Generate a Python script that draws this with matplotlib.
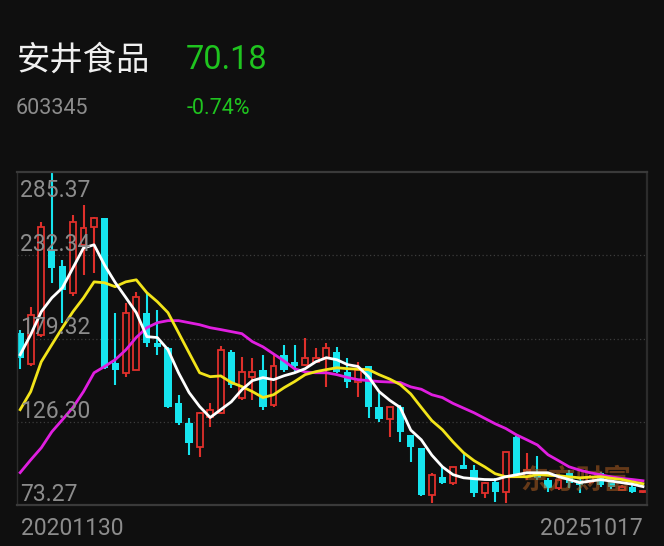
import matplotlib
matplotlib.use("Agg")
import matplotlib.pyplot as plt

plt.rcParams['font.family'] = ['Roboto', 'Noto Sans CJK SC', 'DejaVu Sans']

# header
stock_name = "安井食品"
stock_code = "603345"
last_price = "70.18"
change_pct = "-0.74%"
first_date = "20201130"
last_date = "20251017"

# monthly candles, Nov 2020 .. Oct 2025
opens = [183.0, 163.2, 181.8, 235.8, 225.2, 208.2, 239.0, 250.4, 256.2, 164.0,
         157.5, 159.5, 195.8, 176.7, 173.4, 138.5, 125.8, 110.4, 129.5, 132.0,
         170.8, 141.7, 155.0, 159.5, 137.2, 169.0, 164.5, 162.7, 164.5, 167.0,
         170.8, 158.2, 151.3, 161.5, 135.4, 127.8, 135.4, 118.0, 109.7, 79.9,
         91.3, 87.5, 99.0, 95.8, 81.2, 88.1, 81.8, 116.8, 91.3, 94.5,
         89.4, 84.3, 93.8, 89.4, 88.1, 93.8, 88.1, 83.0, 85.0, 81.5]
closes = [167.2, 194.5, 250.6, 224.3, 210.3, 253.8, 249.6, 256.2, 160.7, 159.5,
          195.8, 206.0, 176.7, 174.0, 136.0, 125.8, 113.0, 132.0, 134.0, 172.0,
          150.0, 158.2, 158.2, 135.4, 161.5, 159.5, 161.5, 167.1, 167.0, 173.5,
          158.2, 151.9, 159.5, 135.4, 127.8, 135.4, 120.0, 110.4, 79.8, 92.6,
          87.5, 97.6, 96.4, 81.2, 87.5, 81.8, 107.2, 92.6, 95.8, 90.6,
          84.3, 89.4, 87.5, 86.2, 91.3, 86.2, 85.0, 85.0, 81.8, 82.3]
highs = [185.0, 199.6, 253.8, 285.37, 229.4, 258.1, 264.5, 257.0, 256.2, 195.8,
         202.0, 209.0, 208.5, 197.6, 174.0, 143.5, 129.0, 132.7, 138.5, 174.7,
         172.0, 167.8, 167.0, 169.0, 169.0, 175.4, 175.4, 179.9, 173.5, 176.6,
         174.0, 167.0, 164.5, 161.5, 144.9, 136.0, 137.2, 118.0, 109.7, 93.9,
         97.6, 97.6, 107.2, 99.0, 88.1, 90.6, 107.2, 117.4, 106.6, 104.7,
         90.6, 91.3, 95.8, 89.8, 92.6, 94.5, 89.0, 85.8, 87.5, 82.5]
lows = [160.1, 162.0, 180.0, 214.8, 189.3, 206.1, 219.8, 221.0, 160.0, 150.0,
        155.0, 159.0, 174.0, 169.0, 135.0, 124.5, 105.3, 104.0, 123.2, 131.5,
        148.0, 140.4, 140.4, 134.0, 136.0, 158.0, 157.5, 161.5, 164.0, 148.7,
        157.5, 148.0, 142.3, 129.0, 126.3, 116.8, 113.7, 100.8, 79.0, 74.7,
        86.8, 86.2, 96.0, 78.6, 78.0, 75.4, 74.7, 91.3, 89.4, 89.4,
        81.8, 83.0, 84.3, 81.2, 86.8, 85.0, 83.5, 82.5, 81.2, 81.0]

# moving averages as drawn on the chart
ma5 = [169.0, 181.8, 196.4, 205.2, 211.6, 224.3, 237.0, 239.0, 226.0, 215.0,
       205.5, 195.8, 180.5, 179.9, 172.2, 157.5, 144.9, 136.0, 129.0, 134.0,
       139.0, 146.7, 152.5, 154.4, 153.1, 155.6, 157.5, 160.1, 164.5, 167.1,
       165.8, 162.7, 161.5, 155.0, 145.5, 140.0, 135.4, 121.0, 114.8, 105.0,
       97.6, 92.6, 90.6, 90.0, 89.5, 89.4, 91.3, 92.5, 93.8, 93.8,
       93.8, 91.3, 89.5, 87.5, 88.5, 89.4, 88.5, 87.5, 86.5, 85.0]
ma10 = [134.0, 145.5, 164.5, 175.4, 186.2, 196.4, 205.2, 215.4, 214.8, 212.3,
        215.4, 216.7, 208.5, 202.7, 195.8, 183.0, 170.2, 157.5, 155.0, 155.5,
        151.3, 148.7, 145.5, 141.7, 143.5, 148.0, 151.9, 156.3, 158.2, 159.5,
        160.7, 160.1, 159.8, 159.5, 156.3, 153.5, 150.0, 144.0, 135.4, 127.0,
        121.2, 113.5, 106.6, 101.5, 97.6, 93.2, 91.3, 91.3, 91.3, 92.6,
        92.2, 91.9, 91.2, 90.6, 91.0, 91.3, 90.3, 89.5, 88.0, 86.8]
ma20 = [93.9, 102.0, 109.7, 119.9, 127.6, 135.4, 145.5, 157.5, 161.5, 165.8,
        172.0, 180.0, 186.2, 189.4, 190.7, 190.7, 189.4, 188.1, 186.2, 185.0,
        183.7, 182.4, 177.3, 174.0, 169.5, 165.0, 160.0, 158.0, 157.5, 157.5,
        156.3, 154.5, 153.1, 152.5, 151.9, 151.6, 151.3, 148.5, 147.0, 143.5,
        141.7, 138.0, 135.0, 132.0, 128.5, 125.0, 122.0, 118.0, 114.8, 111.5,
        105.3, 101.5, 97.6, 95.5, 93.8, 92.5, 91.2, 90.2, 89.5, 88.7]

y_ticks = [285.37, 232.34, 179.32, 126.30, 73.27]

BG = '#0f0f0f'
UP = '#e0302b'
DOWN = '#16e4ee'
GRAY = '#8c8c8c'
GREEN = '#1fc41f'

fig = plt.figure(figsize=(6.64, 5.46), dpi=100, facecolor=BG)
ax = fig.add_axes([17 / 664, 41 / 546, 630 / 664, 333 / 546])
ax.set_facecolor(BG)

n = len(opens)
xs = list(range(n))
for i in xs:
    o, c, h, l = opens[i], closes[i], highs[i], lows[i]
    if c >= o:
        ax.vlines(i, max(o, c), h, color=UP, lw=1.5, zorder=1)
        ax.vlines(i, l, min(o, c), color=UP, lw=1.5, zorder=1)
        ax.bar(i, max(c - o, 0.6), bottom=o, width=0.56, facecolor=BG,
               edgecolor=UP, linewidth=1.3, zorder=1.2)
    else:
        ax.vlines(i, l, h, color=DOWN, lw=1.5, zorder=1)
        ax.bar(i, o - c, bottom=c, width=0.68, color=DOWN, linewidth=0, zorder=1.2)

ax.plot(xs, ma20, color='#e01ee0', lw=2.0, zorder=3)
ax.plot(xs, ma10, color='#f2e41a', lw=2.0, zorder=3.1)
ax.plot(xs, ma5, color='#ffffff', lw=2.0, zorder=3.2)

ax.set_xlim(-0.3, n - 1 + 0.38)
ax.set_ylim(y_ticks[-1], y_ticks[0])
ax.set_xticks([])
ax.set_yticks([])
for v in y_ticks[1:-1]:
    ax.axhline(v, color='#3c3c3c', lw=0.9, ls=(0, (1, 2)), zorder=0.5)

for side in ['top', 'bottom']:
    ax.spines[side].set_color('#3a3a3a')
    ax.spines[side].set_linewidth(1.6)
ax.spines['left'].set_color('#2c2c2c')
ax.spines['left'].set_linewidth(1.0)
ax.spines['right'].set_color('#2c2c2c')
ax.spines['right'].set_linewidth(1.6)

# price labels inside the plot
for k, v in enumerate(y_ticks):
    dy = -18 if k == 0 else 3
    ax.annotate(f"{v:.2f}", xy=(0, v), xycoords=('axes fraction', 'data'),
                xytext=(2.5, dy), textcoords='offset points', va='baseline',
                ha='left', color=GRAY, fontsize=16.5, zorder=4)

# watermark
ax.text(0.975, 0.072, "东方财富", transform=ax.transAxes, ha='right', va='center',
        fontsize=20, fontweight='bold', color='#a0561f', alpha=0.6,
        family=['Noto Sans CJK SC'], zorder=2)

# header
fig.text(17 / 664, 1 - 60 / 546, stock_name, color='#f0f0f0', fontsize=24,
         va='center', ha='left', family=['Noto Sans CJK SC', 'DejaVu Sans'])
fig.text(186 / 664, 1 - 60 / 546, last_price, color=GREEN, fontsize=23.5,
         va='center', ha='left')
fig.text(16 / 664, 1 - 108.5 / 546, stock_code, color=GRAY, fontsize=15.5,
         va='center', ha='left')
fig.text(187 / 664, 1 - 108.5 / 546, change_pct, color=GREEN, fontsize=15.5,
         va='center', ha='left')

fig.text(21 / 664, 1 - 535 / 546, first_date, color=GRAY, fontsize=16.5,
         va='baseline', ha='left')
fig.text(643 / 664, 1 - 535 / 546, last_date, color=GRAY, fontsize=16.5,
         va='baseline', ha='right')

fig.savefig("out.png", dpi=100, facecolor=BG)
